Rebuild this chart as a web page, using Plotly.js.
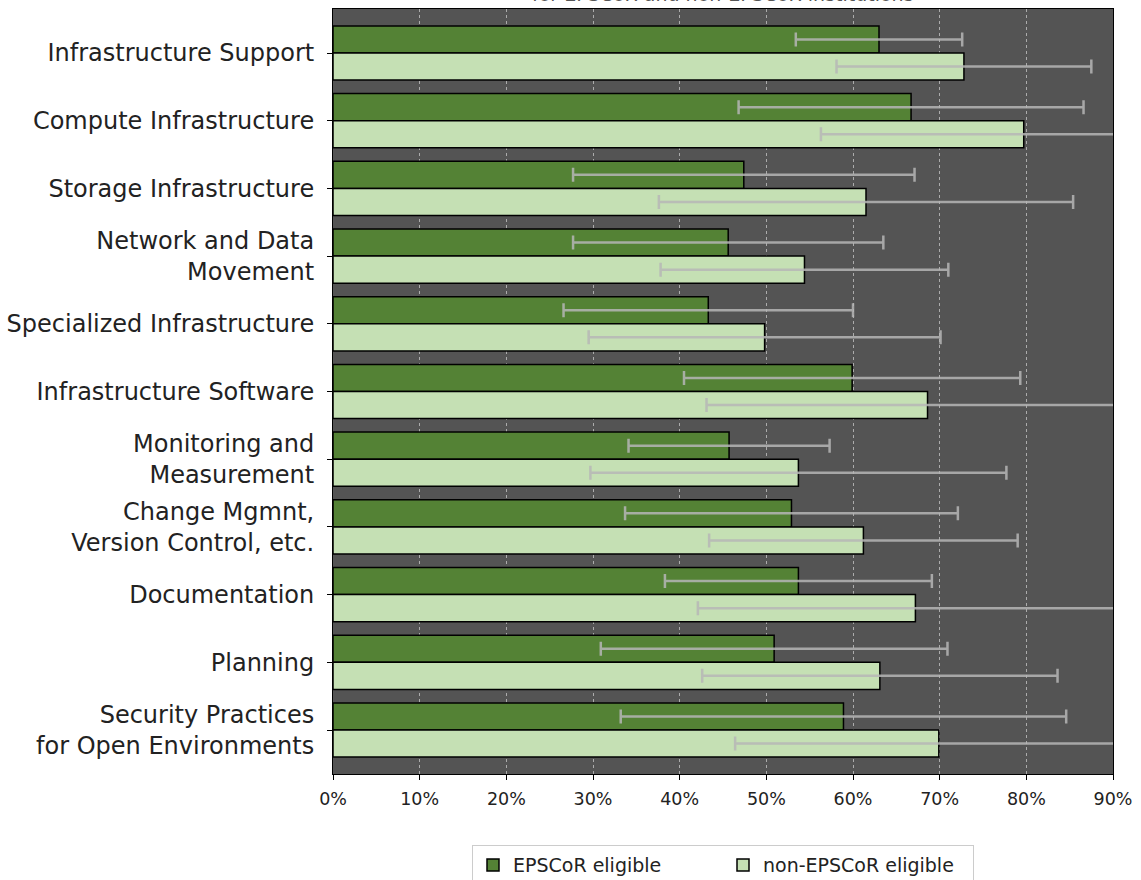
<!DOCTYPE html>
<html>
<head>
<meta charset="utf-8">
<script src="https://cdn.plot.ly/plotly-3.0.1.min.js"></script>
<style>
  html, body { margin: 0; padding: 0; background: #ffffff; }
  #chart { width: 1141px; height: 880px; }
</style>
</head>
<body>
<div id="chart"></div>
<script>
// ---- data (percent) ----
const categories = [
  "Infrastructure Support",
  "Compute Infrastructure",
  "Storage Infrastructure",
  "Network and Data<br>Movement",
  "Specialized Infrastructure",
  "Infrastructure Software",
  "Monitoring and<br>Measurement",
  "Change Mgmnt,<br>Version Control, etc.",
  "Documentation",
  "Planning",
  "Security Practices<br>for Open Environments"
];
const epscorValues = [63.0, 66.7, 47.4, 45.6, 43.3, 59.9, 45.7, 52.9, 53.7, 50.9, 58.9];
const epscorErrors = [9.6, 19.9, 19.7, 17.9, 16.7, 19.4, 11.6, 19.2, 15.4, 20.0, 25.7];
const nonEpscorValues = [72.8, 79.7, 61.5, 54.4, 49.8, 68.6, 53.7, 61.2, 67.2, 63.1, 69.9];
const nonEpscorErrors = [14.7, 23.4, 23.9, 16.6, 20.3, 25.5, 24.0, 17.8, 25.1, 20.5, 23.5];
const seriesNames = ["EPSCoR eligible", "non-EPSCoR eligible"];
const titleText = "for EPSCoR and non-EPSCoR institutions";
const xTickValues = [0, 10, 20, 30, 40, 50, 60, 70, 80, 90];

const errStyle = {
  type: "data", symmetric: true, visible: true,
  color: "rgba(182,182,182,0.85)", thickness: 2.5, width: 7
};

const traces = [
  {
    type: "bar", orientation: "h", name: seriesNames[0],
    y: categories, x: epscorValues,
    marker: { color: "#548235", line: { color: "#000000", width: 1.5 } },
    error_x: Object.assign({ array: epscorErrors }, errStyle),
    hoverinfo: "x+y"
  },
  {
    type: "bar", orientation: "h", name: seriesNames[1],
    y: categories, x: nonEpscorValues,
    marker: { color: "#c5e0b4", line: { color: "#000000", width: 1.5 } },
    error_x: Object.assign({ array: nonEpscorErrors }, errStyle),
    hoverinfo: "x+y"
  }
];

const layout = {
  width: 1141, height: 880,
  margin: { l: 333, r: 28, t: 9, b: 106, pad: 0, autoexpand: false },
  paper_bgcolor: "#ffffff",
  plot_bgcolor: "#545454",
  barmode: "group",
  bargap: 0.2,
  bargroupgap: 0,
  font: { family: "DejaVu Sans, sans-serif", color: "#222222" },
  showlegend: true,
  legend: {
    orientation: "h",
    x: 0.5, xanchor: "center",
    y: -0.093, yanchor: "top",
    bordercolor: "#cccccc", borderwidth: 1,
    bgcolor: "#ffffff",
    font: { size: 19, color: "#222222" },
    entrywidth: 205,
    traceorder: "normal"
  },
  xaxis: {
    range: [0, 90],
    tickvals: xTickValues,
    ticktext: xTickValues.map(v => v + "%"),
    ticks: "outside", ticklen: 5, tickcolor: "#000000", tickwidth: 1,
    tickfont: { size: 17.5, color: "#222222" },
    ticklabelstandoff: 4,
    showgrid: true, gridcolor: "rgba(210,210,210,0.7)", griddash: "dot", gridwidth: 1,
    zeroline: false,
    showline: true, linecolor: "#000000", linewidth: 1, mirror: true,
    fixedrange: true
  },
  yaxis: {
    type: "category",
    categoryorder: "array", categoryarray: categories,
    range: [10.65, -0.65],
    autorange: false,
    ticks: "outside", ticklen: 5, tickcolor: "#000000", tickwidth: 1,
    tickfont: { size: 24, color: "#222222" },
    ticklabelstandoff: 8,
    showgrid: false, zeroline: false,
    showline: true, linecolor: "#000000", linewidth: 1, mirror: true,
    fixedrange: true
  },
  annotations: [
    {
      text: titleText,
      xref: "paper", yref: "paper", x: 0.5, y: 1,
      xanchor: "center", yanchor: "bottom",
      yshift: 2, showarrow: false,
      font: { size: 19, color: "#555555" }
    }
  ]
};

Plotly.newPlot("chart", traces, layout, { displayModeBar: false, staticPlot: true });
</script>
</body>
</html>
